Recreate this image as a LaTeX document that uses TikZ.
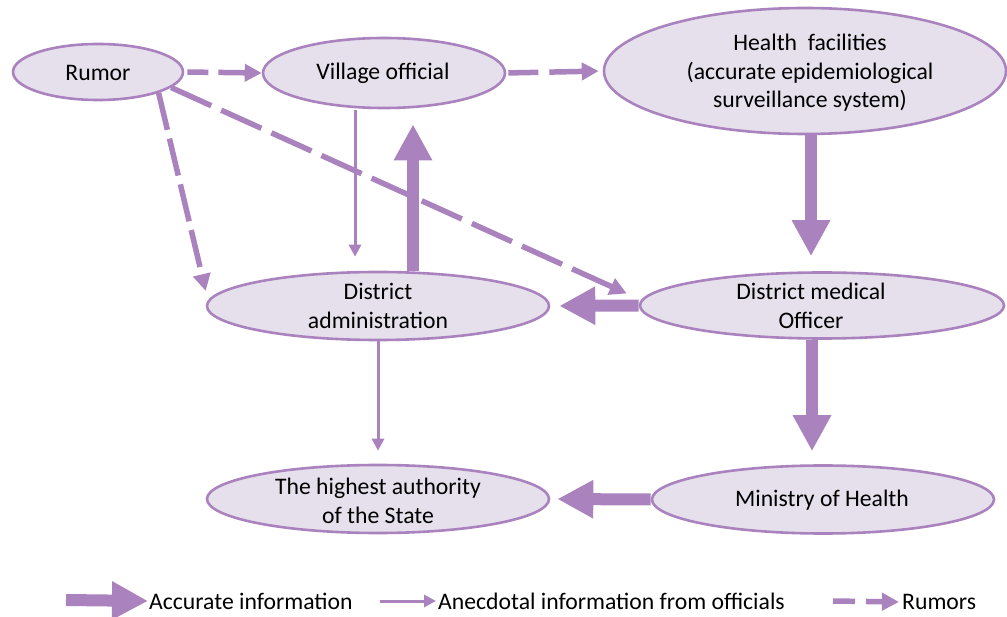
\documentclass[tikz,border=0pt]{standalone}
\usepackage{fontspec}
\setmainfont{Carlito}
\usetikzlibrary{arrows.meta,shapes.geometric,calc}
\definecolor{pstroke}{RGB}{170,131,190}
\definecolor{pfill}{RGB}{230,224,236}
\tikzset{
  ell/.style={ellipse, draw=pstroke, fill=pfill, line width=2.6pt, inner sep=0pt},
  txt/.style={align=center, font=\fontsize{23.7}{28.5}\selectfont, inner sep=0pt},
  acc/.style={draw=pstroke, line width=12pt, -{Triangle[length=36pt,width=36pt]}},
  thin/.style={draw=pstroke, line width=3pt, -{Triangle[length=12pt,width=12pt]}},
  rum/.style={draw=pstroke, line width=5.5pt, dash pattern=on 44pt off 11pt, -{Triangle[length=17pt,width=17pt]}},
}
\begin{document}
\begin{tikzpicture}[x=1pt,y=-1pt]
\useasboundingbox (0,0) rectangle (1007,617);
% ellipses
\node[ell, minimum width=170pt, minimum height=56pt] (rumor) at (98,72) {};
\node[ell, minimum width=242pt, minimum height=70pt] (village) at (384,73) {};
\node[ell, minimum width=402pt, minimum height=126pt] (hf) at (805,71) {};
\node[ell, minimum width=342pt, minimum height=68pt] (da) at (378,306) {};
\node[ell, minimum width=364pt, minimum height=66pt] (dmo) at (822,305.5) {};
\node[ell, minimum width=342pt, minimum height=68pt] (high) at (378,499) {};
\node[ell, minimum width=342pt, minimum height=68pt] (min) at (823,499.5) {};
% texts
\node[txt] (rumor-t) at (98,73) {Rumor};
\node[txt] (village-t) at (383,73) {Village official};
\node[txt] (hf-t) at (810,73) {Health\ \ facilities\\(accurate epidemiological\\surveillance system)};
\node[txt] (da-t) at (378,306) {District\\administration};
\node[txt] (dmo-t) at (811,306) {District medical\\Officer};
\node[txt] (high-t) at (378,501) {The highest authority\\of the State};
\node[txt] (min-t) at (822,500) {Ministry of Health};
% connectors
\draw[acc] ($(da.north)+(35,0)$) -- ($(village.south)+(29,15)$);
\draw[thin] ($(village.south)+(-29,1)$) -- ($(da.north)+(-23,-14)$);
\draw[rum, dash pattern=on 21pt off 10pt on 44pt off 11pt, shorten <=3pt] (rumor.east) -- (village.west);
\draw[rum, dash pattern=on 30pt off 11pt on 44pt off 11pt, shorten <=2pt, shorten >=4pt] (village.east) -- (hf.west);
\draw[rum, dash pattern=on 38pt off 9pt] (rumor.-19) -- ($(da.west)+(0,-15)$);
\draw[rum] (rumor.-12) -- ($(dmo.west)+(-12,-12)$);
\draw[acc] ($(hf.south)+(6,0)$) -- ($(dmo.north)+(-11,-15)$);
\draw[acc, shorten >=9pt] (dmo.west) -- (da.east);
\draw[acc] ($(dmo.south)+(-10,0)$) -- ($(min.north)+(-11,-13)$);
\draw[thin] (da.south) -- ($(high.north)+(0,-13)$);
\draw[acc, shorten >=7pt] (min.west) -- (high.east);
% legend
\coordinate (l1a) at (66,600);
\node[txt, anchor=west] (l1t) at (149,601) {Accurate information};
\draw[acc, shorten >=1pt] (l1a) -- (l1t.west);
\coordinate (l2a) at (380,601);
\node[txt, anchor=west] (l2t) at (438,601) {Anecdotal information from officials};
\draw[thin, shorten >=2pt] (l2a) -- (l2t.west);
\coordinate (l3a) at (833,601);
\node[txt, anchor=west] (l3t) at (902,602) {Rumors};
\draw[rum, dash pattern=on 22pt off 11pt, shorten >=3pt] (l3a) -- (l3t.west);
\end{tikzpicture}
\end{document}
